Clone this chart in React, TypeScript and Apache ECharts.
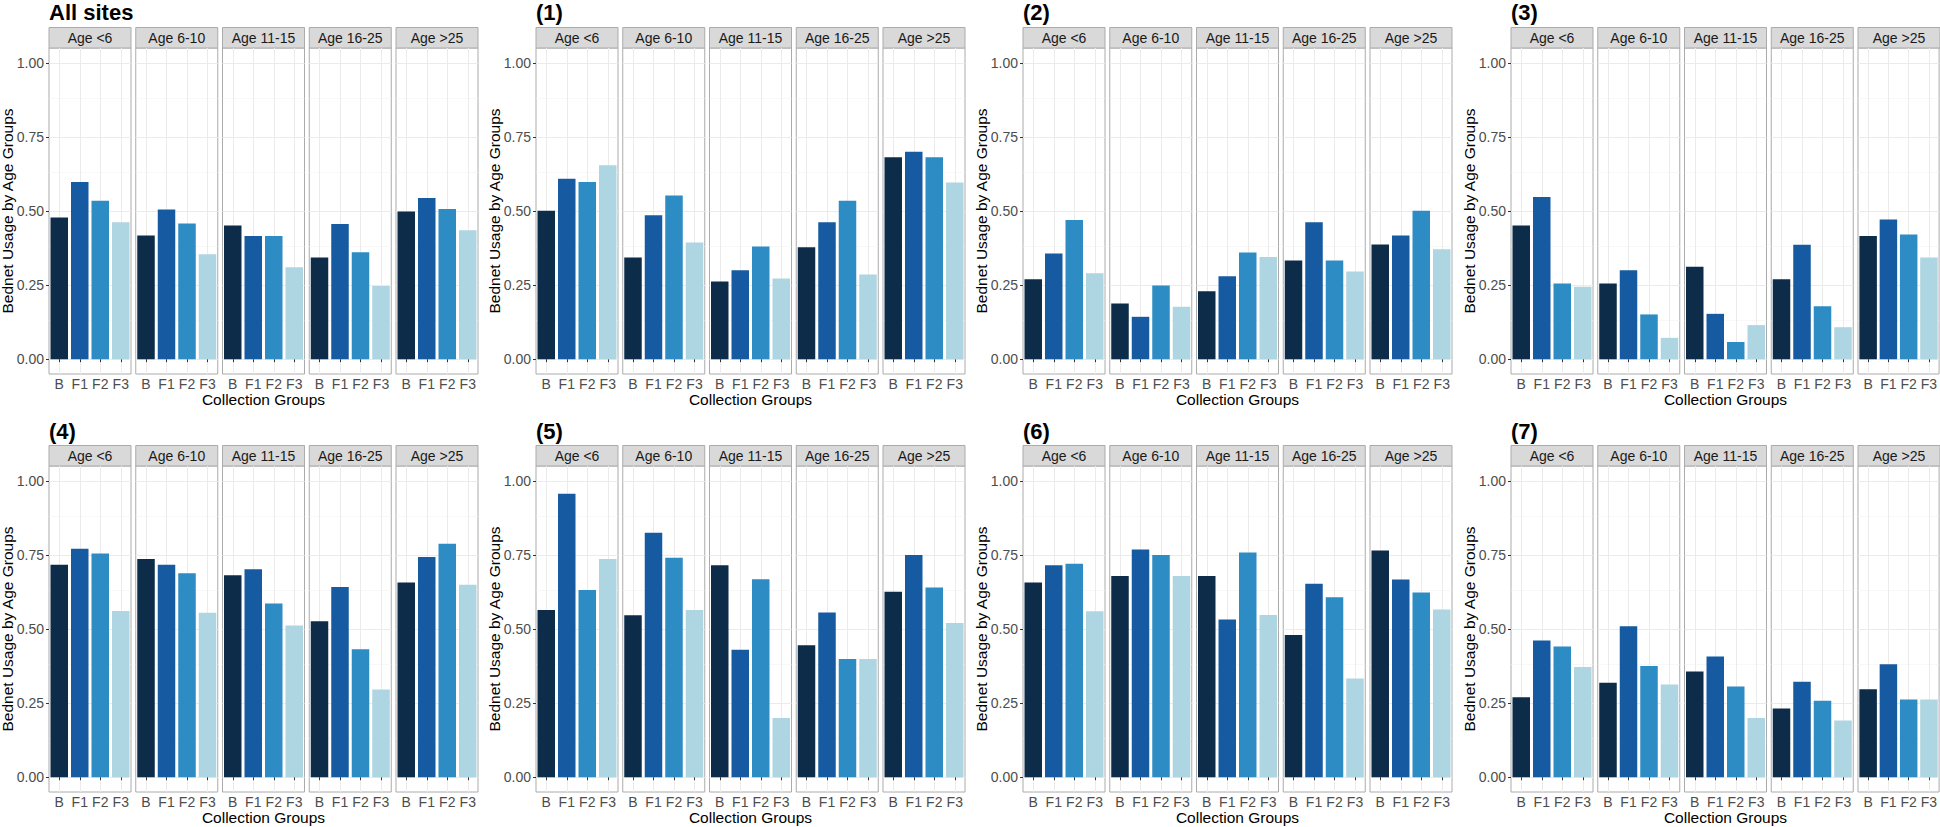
import React, { useEffect, useRef } from "react";
import * as echarts from "echarts";

const categories = ["B", "F1", "F2", "F3"];
const ageGroups = ["Age <6", "Age 6-10", "Age 11-15", "Age 16-25", "Age >25"];
const panelTitles = ["All sites", "(1)", "(2)", "(3)", "(4)", "(5)", "(6)", "(7)"];
const yTickValues = [0, 0.25, 0.5, 0.75, 1];
const yMinorValues = [0.125, 0.375, 0.625, 0.875];

const allSites = [
  [0.478, 0.598, 0.535, 0.462],
  [0.417, 0.505, 0.458, 0.354],
  [0.451, 0.416, 0.416, 0.31],
  [0.343, 0.456, 0.361, 0.247],
  [0.498, 0.544, 0.507, 0.435],
];
const site1 = [
  [0.501, 0.609, 0.598, 0.654],
  [0.343, 0.486, 0.552, 0.394],
  [0.262, 0.3, 0.38, 0.272],
  [0.378, 0.462, 0.535, 0.286],
  [0.681, 0.7, 0.681, 0.596],
];
const site2 = [
  [0.27, 0.357, 0.47, 0.29],
  [0.188, 0.143, 0.249, 0.177],
  [0.229, 0.28, 0.36, 0.345],
  [0.333, 0.462, 0.333, 0.296],
  [0.387, 0.417, 0.501, 0.371],
];
const site3 = [
  [0.451, 0.547, 0.255, 0.244],
  [0.255, 0.3, 0.151, 0.072],
  [0.312, 0.153, 0.058, 0.115],
  [0.27, 0.386, 0.179, 0.108],
  [0.416, 0.471, 0.421, 0.343],
];
const site4 = [
  [0.717, 0.771, 0.755, 0.561],
  [0.736, 0.717, 0.688, 0.555],
  [0.681, 0.702, 0.586, 0.512],
  [0.526, 0.642, 0.432, 0.296],
  [0.657, 0.743, 0.788, 0.649],
];
const site5 = [
  [0.564, 0.956, 0.632, 0.736],
  [0.546, 0.825, 0.74, 0.564],
  [0.715, 0.43, 0.668, 0.2],
  [0.445, 0.556, 0.399, 0.399],
  [0.626, 0.75, 0.64, 0.52],
];
const site6 = [
  [0.657, 0.715, 0.72, 0.56],
  [0.679, 0.768, 0.75, 0.679],
  [0.679, 0.532, 0.758, 0.547],
  [0.48, 0.653, 0.607, 0.333],
  [0.765, 0.667, 0.623, 0.566],
];
const site7 = [
  [0.27, 0.461, 0.441, 0.372],
  [0.319, 0.509, 0.375, 0.313],
  [0.357, 0.407, 0.306, 0.2],
  [0.232, 0.322, 0.258, 0.191],
  [0.297, 0.381, 0.262, 0.262],
];
const panelData = [allSites, site1, site2, site3, site4, site5, site6, site7];

const barColors = ["#0C2C4A", "#165BA2", "#2D8CC3", "#AED5E2"];

// layout
const panelLefts = [49, 536, 1023, 1511];
const rowPlotTops = [48, 466];
const plotH = 326;
const facetStep = 86.75;
const facetW = 82;
const stripH = 20.5;
const FONT = "Liberation Sans, Arial, Helvetica, sans-serif";
const BORDER = "#ABABAB";

function buildOption() {
  const grid: any[] = [];
  const xAxis: any[] = [];
  const yAxis: any[] = [];
  const series: any[] = [];
  const graphic: any[] = [];

  panelData.forEach((panel, p) => {
    const col = p % 4;
    const row = Math.floor(p / 4);
    const pl = panelLefts[col];
    const top = rowPlotTops[row];

    graphic.push({
      type: "text",
      x: pl,
      y: row === 0 ? 12 : 431,
      style: {
        text: panelTitles[p],
        font: `bold 22px ${FONT}`,
        fill: "#000",
        align: "left",
        verticalAlign: "middle",
      },
    });
    graphic.push({
      type: "text",
      x: pl - 41.5,
      y: top + plotH / 2,
      rotation: Math.PI / 2,
      style: {
        text: "Bednet Usage by Age Groups",
        font: `15.5px ${FONT}`,
        fill: "#000",
        align: "center",
        verticalAlign: "middle",
      },
    });
    graphic.push({
      type: "text",
      x: pl + (4 * facetStep + facetW) / 2,
      y: top + plotH + 25.5,
      style: {
        text: "Collection Groups",
        font: `15.5px ${FONT}`,
        fill: "#000",
        align: "center",
        verticalAlign: "middle",
      },
    });

    panel.forEach((vals, f) => {
      const idx = grid.length;
      const fl = pl + f * facetStep;
      grid.push({
        left: fl,
        top: top,
        width: facetW,
        height: plotH,
        show: true,
        backgroundColor: "#FFFFFF",
        borderColor: BORDER,
        borderWidth: 1,
        containLabel: false,
      });
      graphic.push({
        type: "rect",
        shape: { x: fl, y: top - stripH, width: facetW, height: stripH },
        style: { fill: "#D9D9D9", stroke: BORDER, lineWidth: 1 },
      });
      graphic.push({
        type: "text",
        x: fl + facetW / 2,
        y: top - stripH / 2,
        style: {
          text: ageGroups[f],
          font: `14px ${FONT}`,
          fill: "#1A1A1A",
          align: "center",
          verticalAlign: "middle",
        },
      });
      xAxis.push({
        type: "category",
        gridIndex: idx,
        data: categories,
        axisLine: { show: false },
        axisTick: { show: true, alignWithLabel: true, length: 3, lineStyle: { color: "#333333" } },
        axisLabel: { color: "#4D4D4D", fontSize: 14, margin: 3, interval: 0, fontFamily: FONT },
        splitLine: { show: false },
      });
      const first = f === 0;
      yAxis.push({
        type: "value",
        gridIndex: idx,
        min: -0.05,
        max: 1.05,
        axisLine: { show: false },
        splitLine: { show: false },
        axisTick: {
          show: first,
          length: 3,
          customValues: yTickValues,
          lineStyle: { color: "#333333" },
        },
        axisLabel: {
          show: first,
          customValues: yTickValues,
          formatter: (v: number) => v.toFixed(2),
          color: "#4D4D4D",
          fontSize: 14,
          margin: 5,
          fontFamily: FONT,
        },
      });
      const gridLines: any[] = [];
      yMinorValues.forEach((v) =>
        gridLines.push({ yAxis: v, lineStyle: { color: "#F4F4F4", width: 0.6, type: "solid" } })
      );
      yTickValues.forEach((v) =>
        gridLines.push({ yAxis: v, lineStyle: { color: "#EBEBEB", width: 1, type: "solid" } })
      );
      categories.forEach((c) =>
        gridLines.push({ xAxis: c, lineStyle: { color: "#EBEBEB", width: 1, type: "solid" } })
      );
      series.push({
        type: "line",
        xAxisIndex: idx,
        yAxisIndex: idx,
        data: [],
        z: 0,
        silent: true,
        markLine: {
          z: 0,
          silent: true,
          symbol: ["none", "none"],
          label: { show: false },
          emphasis: { disabled: true },
          data: gridLines,
        },
      });
      series.push({
        type: "bar",
        xAxisIndex: idx,
        yAxisIndex: idx,
        z: 3,
        barWidth: 17.5,
        silent: true,
        data: vals.map((v, j) => ({ value: v, itemStyle: { color: barColors[j] } })),
      });
    });
  });

  return {
    animation: false,
    backgroundColor: "#FFFFFF",
    textStyle: { fontFamily: FONT },
    grid,
    xAxis,
    yAxis,
    series,
    graphic,
  };
}

export default function App() {
  const ref = useRef<HTMLDivElement>(null);
  useEffect(() => {
    if (!ref.current) return;
    const chart = echarts.init(ref.current, null, { renderer: "svg" });
    chart.setOption(buildOption() as any);
    return () => chart.dispose();
  }, []);
  return (
    <div
      ref={ref}
      style={{ position: "absolute", left: 0, top: 0, width: 1940, height: 827 }}
    />
  );
}
